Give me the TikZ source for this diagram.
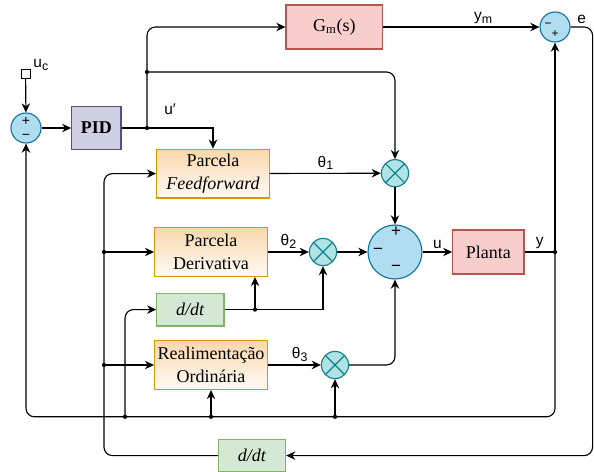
\documentclass[tikz,border=0pt]{standalone}
\usepackage{fontspec}
\setmainfont{Liberation Serif}
\newfontfamily\sflabel{Liberation Sans}
\usetikzlibrary{arrows.meta}
\definecolor{sumfill}{HTML}{B1DDF0}
\definecolor{sumline}{HTML}{10739E}
\definecolor{xfill}{HTML}{B0E3E6}
\definecolor{xline}{HTML}{0E8088}
\definecolor{pidfill}{HTML}{D0CEE2}
\definecolor{pidline}{HTML}{56517E}
\definecolor{redfill}{HTML}{F8CECC}
\definecolor{redline}{HTML}{B85450}
\definecolor{grnfill}{HTML}{D5E8D4}
\definecolor{grnline}{HTML}{82B366}
\definecolor{orgfill}{HTML}{FAD7AC}
\definecolor{orgline}{HTML}{D79B00}
\newcommand{\sbs}[1]{\raisebox{-.35ex}{\fontsize{8.8}{8.8}\selectfont #1}}
\begin{document}
\begin{tikzpicture}[>={Stealth[length=6.5pt,width=6pt]}, line width=.8pt,
        lbl/.style={font=\sflabel\fontsize{11}{12}\selectfont, inner sep=2pt},
        sgn/.style={font=\sflabel\fontsize{10}{10}\selectfont, inner sep=0pt},
        blk/.style={draw, inner sep=0pt, align=center, font=\fontsize{12.8}{16}\selectfont},
        org/.style={blk, draw=orgline, top color=orgfill, bottom color=orgfill!10, minimum width=2.82cm, minimum height=1.22cm},
        grn/.style={blk, draw=grnline, fill=grnfill, minimum width=1.68cm, minimum height=.82cm},
        red/.style={blk, draw=redline, fill=redfill, minimum height=1.1cm},
        sum/.style={circle, draw=sumline, fill=sumfill, inner sep=0pt},
        mult/.style={circle, draw=xline, fill=xfill, minimum size=.68cm, inner sep=0pt,
            path picture={\draw[xline] (path picture bounding box.south west) -- (path picture bounding box.north east)
                (path picture bounding box.north west) -- (path picture bounding box.south east);}}]
    \useasboundingbox (0,0) rectangle (14.85,-11.775);
    % blocos
    \node[draw, minimum size=.225cm, inner sep=0pt] (uc) at (.64,-1.84) {};
    \node[lbl] (ucl) at (1.02,-1.62) {u\sbs{c}};
    \node[sum, minimum size=.75cm] (s1) at (.65,-3.2) {};
    \node[sgn] (s1p) at (.65,-3.03) {+};
    \node[sgn] (s1m) at (.65,-3.42) {−};
    \node[blk, draw=pidline, fill=pidfill, minimum width=1.23cm, minimum height=1.08cm, font=\fontsize{12.8}{16}\selectfont\bfseries] (pid) at (2.41,-3.2) {PID};
    \node[red, minimum width=2.42cm] (gm) at (8.36,-.675) {G\textsubscript{m}(s)};
    \node[sum, minimum size=.75cm] (se) at (13.875,-.675) {};
    \node[sgn, font=\sflabel\fontsize{8.5}{8.5}\selectfont] (sem) at (13.7,-.62) {−};
    \node[sgn, font=\sflabel\fontsize{8.5}{8.5}\selectfont] (sep) at (13.875,-.86) {+};
    \node[org] (ff) at (5.325,-4.34) {Parcela\\\textit{Feedforward}};
    \node[mult] (x1) at (9.875,-4.33) {};
    \node[sum, minimum size=1.35cm] (bs) at (9.875,-6.3) {};
    \node[sgn, font=\sflabel\fontsize{12}{12}\selectfont] (bsp) at (9.9,-5.8) {+};
    \node[sgn, font=\sflabel\fontsize{12}{12}\selectfont] (bsl) at (9.45,-6.28) {−};
    \node[sgn, font=\sflabel\fontsize{12}{12}\selectfont] (bsb) at (9.9,-6.72) {−};
    \node[red, minimum width=1.78cm] (pl) at (12.21,-6.3) {Planta};
    \node[org] (der) at (5.275,-6.3) {Parcela\\Derivativa};
    \node[mult] (x2) at (8.075,-6.3) {};
    \node[grn] (dd1) at (4.76,-7.74) {\textit{d/dt}};
    \node[org] (rea) at (5.275,-9.125) {Realimentação\\Ordinária};
    \node[mult] (x3) at (8.375,-9.125) {};
    \node[grn] (dd2) at (6.3,-11.39) {\textit{d/dt}};
    \node[lbl] (up) at (4.25,-2.72) {u′};
    % pontos de ramificação
    \coordinate (j1) at (3.675,-3.2);
    \coordinate (j2) at (3.675,-1.8);
    \coordinate (jy) at (13.875,-6.3);
    \coordinate (jd) at (2.6,-6.3);
    \coordinate (jr) at (2.6,-9.125);
    \coordinate (jd1) at (6.375,-7.74);
    \coordinate (b1) at (3.125,-10.42);
    \coordinate (b2) at (5.275,-10.42);
    \coordinate (b3) at (8.375,-10.42);
    \coordinate (bl) at (.65,-10.42);
    % ligações
    \draw[->] (uc) -- (s1);
    \draw[->] (s1) -- (pid);
    \draw (pid) -- (j1);
    \draw[->] (j1) -| (ff);
    \draw[->, rounded corners=6pt] (j1) |- (gm);
    \draw[->, rounded corners=6pt] (j2) -| (x1);
    \draw[->] (gm) -- node[lbl, above, pos=.64] (ym) {y\sbs{m}} (se);
    \draw[->, rounded corners=6pt] (se.east) -- node[lbl, above] (el) {e} ++(.55,0) |- (dd2);
    \draw[->] (ff) -- node[lbl, above] (t1) {θ\sbs{1}} (x1);
    \draw[->] (x1) -- (bs);
    \draw[->] (der) -- node[lbl, above] (t2) {θ\sbs{2}} (x2);
    \draw[->] (x2) -- (bs);
    \draw[->] (bs) -- node[lbl, above] (ul) {u} (pl);
    \draw (pl) -- node[lbl, above] (yl) {y} (jy);
    \draw[->] (jy) -- (se);
    \draw[->, rounded corners=6pt] (jy) |- (bl) -- (s1);
    \draw[->, rounded corners=6pt] (dd2) -| (jr) |- (ff);
    \draw[->] (jd) -- (der);
    \draw[->] (jr) -- (rea);
    \draw[->, rounded corners=6pt] (b1) |- (dd1);
    \draw (dd1) -- (jd1);
    \draw[->] (jd1) -- (jd1 |- der.south);
    \draw[->] (jd1) -| (x2);
    \draw[->] (rea) -- node[lbl, above, pos=.6] (t3) {θ\sbs{3}} (x3);
    \draw[->] (b2) -- (rea);
    \draw[->] (b3) -- (x3);
    \draw[->, rounded corners=6pt] (x3) -| (bs);
    \foreach \p in {j1,j2,jy,jd,jr,jd1,b1,b2,b3}
        \fill (\p) circle (1.5pt);
\end{tikzpicture}
\end{document}
